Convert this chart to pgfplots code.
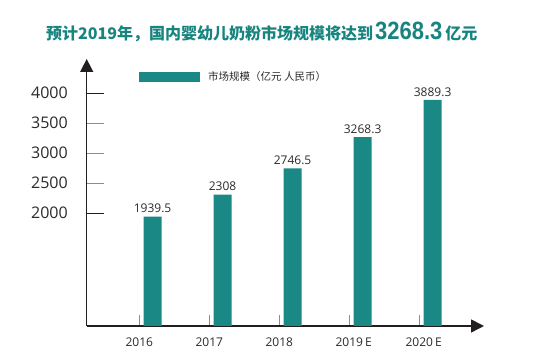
\documentclass[border=0pt]{standalone}
\usepackage{pgfplots}
\pgfplotsset{compat=1.18}
\usepackage{fontspec}
\usetikzlibrary{arrows.meta}
\setmainfont{Open Sans}
\newfontfamily\cjk{Noto Sans CJK SC}
\newfontfamily\bignum[FakeStretch=0.88]{Liberation Sans}
\definecolor{barc}{HTML}{1A8986}
\definecolor{titlec}{HTML}{17847F}
\definecolor{axisc}{HTML}{231F20}
\definecolor{textc}{HTML}{2A2A2A}
\definecolor{tickg}{HTML}{8C8C8C}
\begin{document}
\begin{tikzpicture}
\path[use as bounding box] (0pt,0pt) rectangle (560pt,363pt);
\node[anchor=base west, inner sep=0pt, text=titlec] at (46pt,323pt)
  {\cjk\bfseries\fontsize{16}{16}\selectfont 预计2019年，国内婴幼儿奶粉市场规模将达到\hspace{2pt}{\bignum\bfseries\fontsize{25}{25}\selectfont 3268.3}\hspace{3pt}亿元};
\begin{axis}[
  at={(86.7pt,37pt)}, anchor=south west, scale only axis,
  width=397.3pt, height=267pt,
  xmin=-0.751, xmax=4.924, ymin=112, ymax=4572,
  axis x line=bottom, axis y line=left,
  axis line style={line width=1.5pt, color=axisc},
  every outer x axis line/.append style={-{Triangle[width=13pt,length=13pt]}},
  every outer y axis line/.append style={-{Triangle[width=13pt,length=13pt]}},
  tick align=inside,
  xtick={0,1,2,3,4},
  xticklabels={2016,2017,2018,2019\rlap{\,E},2020\rlap{\,E}},
  xtick style={draw=tickg, line width=0.9pt, /pgfplots/major tick length=11pt},
  ytick={2500,3000,3500},
  ytick style={draw=tickg, line width=0.9pt, /pgfplots/major tick length=17pt},
  extra y ticks={2000,4000},
  extra y tick style={ytick style={draw=axisc, line width=0.9pt, /pgfplots/major tick length=17pt}},
  /pgf/number format/1000 sep={},
  /pgf/number format/assume math mode=true,
  yticklabel style={font=\fontsize{16}{16}\selectfont, text=textc, xshift=-15.4pt},
  xticklabel style={font=\fontsize{12}{12}\selectfont, text=textc, yshift=-8.7pt},
  legend style={at={(rel axis cs:0.1316,0.9326)}, anchor=west, draw=none, fill=none,
    inner sep=0pt, font=\cjk\fontsize{10.5}{12}\selectfont, text=textc,
    /tikz/every odd column/.style={column sep=6pt}},
  clip=false,
]
\addplot[ybar, bar width=18pt, fill=barc, draw=none,
  legend image code/.code={\fill[barc] (0pt,-4.75pt) rectangle (61pt,4.75pt);},
  nodes near coords, point meta=explicit symbolic,
  every node near coord/.append style={font=\fontsize{12}{12}\selectfont, text=textc}]
  coordinates {(0.19,1939.5) [1939.5] (1.19,2308) [2308] (2.19,2746.5) [2746.5] (3.19,3268.3) [3268.3] (4.19,3889.3) [3889.3]};
\addlegendentry{市场规模（亿元 人民币）}
\end{axis}
\end{tikzpicture}
\end{document}
